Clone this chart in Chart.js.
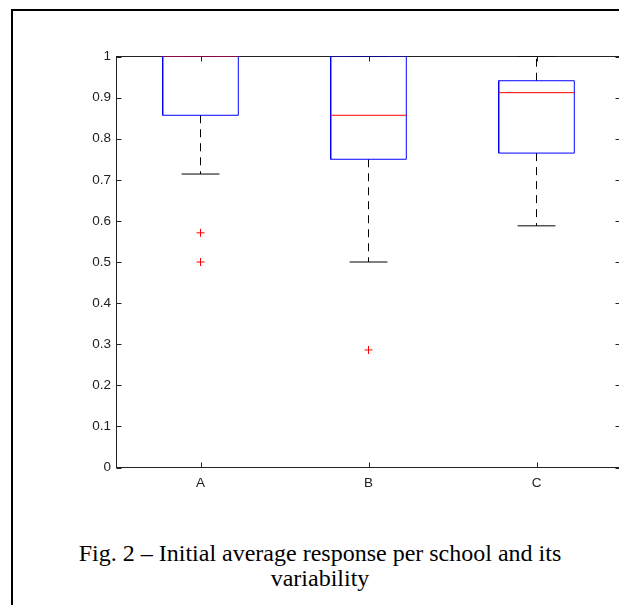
<!DOCTYPE html>
<html>
<head>
<meta charset="utf-8">
<script src="https://cdn.jsdelivr.net/npm/chart.js@4.4.0/dist/chart.umd.min.js"></script>
<style>
  html, body { margin: 0; padding: 0; background: #fff; overflow: hidden; width: 619px; height: 605px; }
  #frame { position: absolute; left: 11px; top: 9px; width: 800px; height: 800px;
           border-top: 2px solid #000; border-left: 2px solid #000; }
  #wrap { position: absolute; left: 0; top: 0; width: 640px; height: 500px; }
  #caption { position: absolute; left: 20px; top: 541px; width: 600px; text-align: center; white-space: nowrap;
             font-family: "Liberation Serif", "Times New Roman", serif; font-size: 24px; line-height: 25px; color: #000; }
</style>
</head>
<body>
<div id="frame"></div>
<div id="wrap"><canvas id="c" width="640" height="500"></canvas></div>
<div id="caption">Fig. 2 – Initial average response per school and its<br>variability</div>
<script>
// ---- data ----
const categories = ['A', 'B', 'C'];
const lowerWhisker = [0.714, 0.5, 0.588];
const q1 = [0.857, 0.75, 0.765];
const median = [1.0, 0.857, 0.912];
const q3 = [1.0, 1.0, 0.941];
const upperWhisker = [1.0, 1.0, 1.0];
const outliers = [[0.571, 0.5], [0.286], []];
const yTicks = [0, 0.1, 0.2, 0.3, 0.4, 0.5, 0.6, 0.7, 0.8, 0.9, 1];

// ---- styling ----
const BOX_HALF = 0.225;
const CAP_HALF = 0.1125;
const BLUE = '#0000ff', RED = '#ff0000', BLACK = '#000000';

const datasets = [];
categories.forEach((cat, i) => {
  const x = i + 1;
  const base = { showLine: true, pointRadius: 0, pointHoverRadius: 0, fill: false, borderWidth: 1, tension: 0 };
  datasets.push(Object.assign({}, base, {
    label: cat + ' median', order: 0, borderColor: RED,
    data: [{x: x - BOX_HALF, y: median[i]}, {x: x + BOX_HALF, y: median[i]}]
  }));
  datasets.push(Object.assign({}, base, {
    label: cat + ' box', order: 1, borderColor: BLUE,
    data: [{x: x - BOX_HALF, y: q1[i]}, {x: x + BOX_HALF, y: q1[i]}, {x: x + BOX_HALF, y: q3[i]},
           {x: x - BOX_HALF, y: q3[i]}, {x: x - BOX_HALF, y: q1[i]}]
  }));
  datasets.push(Object.assign({}, base, {
    label: cat + ' upper whisker', order: 2, borderColor: BLACK, borderDash: [8, 6],
    data: [{x: x, y: q3[i]}, {x: x, y: upperWhisker[i]}]
  }));
  datasets.push(Object.assign({}, base, {
    label: cat + ' lower whisker', order: 2, borderColor: BLACK, borderDash: [8, 6],
    data: [{x: x, y: q1[i]}, {x: x, y: lowerWhisker[i]}]
  }));
  datasets.push(Object.assign({}, base, {
    label: cat + ' upper cap', order: 2, borderColor: BLACK,
    data: [{x: x - CAP_HALF, y: upperWhisker[i]}, {x: x + CAP_HALF, y: upperWhisker[i]}]
  }));
  datasets.push(Object.assign({}, base, {
    label: cat + ' lower cap', order: 2, borderColor: BLACK,
    data: [{x: x - CAP_HALF, y: lowerWhisker[i]}, {x: x + CAP_HALF, y: lowerWhisker[i]}]
  }));
  if (outliers[i].length) {
    datasets.push({
      label: cat + ' outliers', order: 0, showLine: false, pointStyle: 'cross', pointRadius: 4,
      pointHoverRadius: 4, borderColor: RED, borderWidth: 1, backgroundColor: RED,
      data: outliers[i].map(v => ({x: x, y: v}))
    });
  }
});

// axis box + inward ticks (MATLAB style)
const axesBox = {
  id: 'axesBox',
  beforeDatasetsDraw(chart) {
    const {ctx, chartArea: a, scales} = chart;
    ctx.save();
    ctx.strokeStyle = '#222';
    ctx.lineWidth = 1;
    ctx.strokeRect(a.left, a.top, a.right - a.left, a.bottom - a.top);
    const TL = 5;
    ctx.beginPath();
    scales.x.ticks.forEach(t => {
      const px = Math.round(scales.x.getPixelForValue(t.value)) + 0.5;
      ctx.moveTo(px, a.bottom); ctx.lineTo(px, a.bottom - TL);
      ctx.moveTo(px, a.top); ctx.lineTo(px, a.top + TL);
    });
    scales.y.ticks.forEach(t => {
      const py = Math.round(scales.y.getPixelForValue(t.value)) + 0.5;
      ctx.moveTo(a.left, py); ctx.lineTo(a.left + TL, py);
      ctx.moveTo(a.right, py); ctx.lineTo(a.right - TL, py);
    });
    ctx.stroke();
    ctx.restore();
  }
};

new Chart(document.getElementById('c'), {
  type: 'scatter',
  data: { datasets },
  plugins: [axesBox],
  options: {
    responsive: false,
    animation: false,
    events: [],
    layout: { padding: { left: 0, top: 56.5, right: 19.5, bottom: 0 } },
    plugins: { legend: { display: false }, tooltip: { enabled: false }, title: { display: false } },
    scales: {
      x: {
        type: 'linear', min: 0.5, max: 3.5,
        grid: { display: false, drawTicks: false },
        border: { display: false },
        afterBuildTicks: s => { s.ticks = categories.map((c, i) => ({ value: i + 1 })); },
        afterFit: s => { s.height = 32.5; },
        ticks: {
          padding: 8, color: '#222', maxRotation: 0, autoSkip: false,
          font: { family: '"Liberation Sans", Arial, sans-serif', size: 13.5 },
          callback: v => categories[Math.round(v) - 1] || ''
        }
      },
      y: {
        type: 'linear', min: 0, max: 1,
        grid: { display: false, drawTicks: false },
        border: { display: false },
        afterBuildTicks: s => { s.ticks = yTicks.map(v => ({ value: v })); },
        afterFit: s => { s.width = 116.5; },
        ticks: {
          padding: 5.5, color: '#222', autoSkip: false,
          font: { family: '"Liberation Sans", Arial, sans-serif', size: 13.5 },
          callback: v => String(Math.round(v * 10) / 10)
        }
      }
    }
  }
});
</script>
</body>
</html>
